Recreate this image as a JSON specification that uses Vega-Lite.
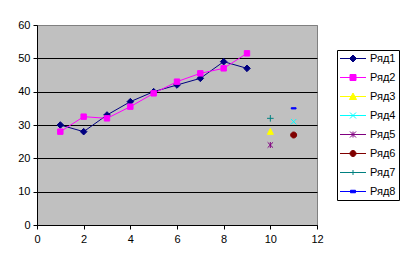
{
  "$schema": "https://vega.github.io/schema/vega-lite/v6.json",
  "width": 280,
  "height": 200,
  "autosize": {"type": "none"},
  "padding": {"left": 37, "top": 25, "right": 91, "bottom": 42},
  "background": "white",
  "config": {
    "font": "Liberation Sans",
    "view": {"stroke": "#808080", "strokeWidth": 1, "fill": "#C0C0C0"},
    "axis": {"labelFont": "Liberation Sans", "labelFontSize": 11, "labelColor": "black", "domainColor": "black", "tickColor": "black", "tickSize": 4, "domainWidth": 1, "tickWidth": 1, "title": null},
    "legend": {"labelFont": "Liberation Sans", "labelFontSize": 11, "labelColor": "black", "symbolOpacity": 1, "symbolStrokeWidth": 1, "symbolSize": 100}
  },
  "data": {
    "values": [
      {"series": "Ряд1", "x": 1, "y": 30},
      {"series": "Ряд1", "x": 2, "y": 28},
      {"series": "Ряд1", "x": 3, "y": 33},
      {"series": "Ряд1", "x": 4, "y": 37},
      {"series": "Ряд1", "x": 5, "y": 40},
      {"series": "Ряд1", "x": 6, "y": 42},
      {"series": "Ряд1", "x": 7, "y": 44},
      {"series": "Ряд1", "x": 8, "y": 49},
      {"series": "Ряд1", "x": 9, "y": 47},
      {"series": "Ряд2", "x": 1, "y": 28},
      {"series": "Ряд2", "x": 2, "y": 32.5},
      {"series": "Ряд2", "x": 3, "y": 32},
      {"series": "Ряд2", "x": 4, "y": 35.5},
      {"series": "Ряд2", "x": 5, "y": 39.5},
      {"series": "Ряд2", "x": 6, "y": 43},
      {"series": "Ряд2", "x": 7, "y": 45.5},
      {"series": "Ряд2", "x": 8, "y": 47},
      {"series": "Ряд2", "x": 9, "y": 51.5},
      {"series": "Ряд3", "x": 10, "y": 28},
      {"series": "Ряд4", "x": 11, "y": 31},
      {"series": "Ряд5", "x": 10, "y": 24},
      {"series": "Ряд6", "x": 11, "y": 27},
      {"series": "Ряд7", "x": 10, "y": 32},
      {"series": "Ряд8", "x": 11, "y": 35}
    ]
  },
  "encoding": {
    "x": {
      "field": "x", "type": "quantitative",
      "scale": {"domain": [0, 12], "nice": false, "zero": false},
      "axis": {"values": [0, 2, 4, 6, 8, 10, 12], "grid": false, "labelPadding": 4, "labelFlush": false}
    },
    "y": {
      "field": "y", "type": "quantitative",
      "scale": {"domain": [0, 60], "nice": false},
      "axis": {
        "values": [0, 10, 20, 30, 40, 50, 60],
        "grid": true,
        "gridOpacity": 1,
        "gridWidth": 1,
        "gridColor": {"condition": {"test": "datum.value === 60", "value": "#808080"}, "value": "black"},
        "labelPadding": 3,
        "labelFlush": false
      }
    },
    "stroke": {
      "field": "series", "type": "nominal",
      "scale": {
        "domain": ["Ряд1", "Ряд2", "Ряд3", "Ряд4", "Ряд5", "Ряд6", "Ряд7", "Ряд8"],
        "range": ["#000080", "#FF00FF", "#FFFF00", "#00FFFF", "#800080", "#800000", "#008080", "#0000FF"]
      },
      "legend": {"title": null, "orient": "none", "legendX": 300, "legendY": 25, "strokeColor": "black", "padding": 3, "rowPadding": 7, "labelOffset": 19, "symbolSize": 100}
    }
  },
  "layer": [
    {
      "mark": {"type": "line", "strokeWidth": 1}
    },
    {
      "mark": {"type": "point", "filled": true, "size": 100, "strokeWidth": 1, "opacity": 0},
      "encoding": {
        "fill": {
          "field": "series", "type": "nominal",
          "scale": {
            "domain": ["Ряд1", "Ряд2", "Ряд3", "Ряд4", "Ряд5", "Ряд6", "Ряд7", "Ряд8"],
            "range": ["#000080", "#FF00FF", "#FFFF00", "#00FFFF", "#800080", "#800000", "#008080", "#0000FF"]
          },
          "legend": {"title": null, "orient": "none", "legendX": 300, "legendY": 25, "strokeColor": "black", "padding": 3, "rowPadding": 7, "labelOffset": 19, "symbolSize": 100}
        },
        "shape": {
          "field": "series", "type": "nominal",
          "scale": {
            "domain": ["Ряд1", "Ряд2", "Ряд3", "Ряд4", "Ряд5", "Ряд6", "Ряд7", "Ряд8"],
            "range": [
              "M-1.1,0H4.1M1.5,-0.7L2.2,0L1.5,0.7L0.8,0Z",
              "M-1.1,0H4.1M0.9,-0.6H2.1V0.6H0.9Z",
              "M-1.1,0H4.1M1.5,-0.7L2.2,0.6H0.8Z",
              "M-1.1,0H4.1M0.9,-0.6L2.1,0.6M0.9,0.6L2.1,-0.6",
              "M-1.1,0H4.1M0.9,-0.6L2.1,0.6M0.9,0.6L2.1,-0.6M1.5,-0.6V0.6",
              "M-1.1,0H4.1M0.9,0A0.6,0.6 0 1,0 2.1,0A0.6,0.6 0 1,0 0.9,0Z",
              "M-1.1,0H4.1M1.5,-0.5V0.5",
              "M-1.1,0H4.1M1,-0.25H2V0.25H1Z"
            ]
          },
          "legend": {"title": null, "orient": "none", "legendX": 300, "legendY": 25, "strokeColor": "black", "padding": 3, "rowPadding": 7, "labelOffset": 19, "symbolSize": 100}
        }
      }
    },
    {
      "transform": [{"filter": {"field": "series", "equal": "Ряд1"}}],
      "mark": {"type": "point", "filled": true, "size": 36, "strokeWidth": 1, "opacity": 1, "shape": "M0,-1.1L1.1,0L0,1.1L-1.1,0Z"},
      "encoding": {"fill": {"field": "series", "type": "nominal"}}
    },
    {
      "transform": [{"filter": {"field": "series", "equal": "Ряд2"}}],
      "mark": {"type": "point", "filled": true, "size": 36, "strokeWidth": 1, "opacity": 1, "shape": "M-0.9,-0.9H0.9V0.9H-0.9Z"},
      "encoding": {"fill": {"field": "series", "type": "nominal"}}
    },
    {
      "transform": [{"filter": {"field": "series", "equal": "Ряд3"}}],
      "mark": {"type": "point", "filled": true, "size": 36, "strokeWidth": 1, "opacity": 1, "shape": "M0,-1.1L1,0.9H-1Z"},
      "encoding": {"fill": {"field": "series", "type": "nominal"}}
    },
    {
      "transform": [{"filter": {"field": "series", "equal": "Ряд4"}}],
      "mark": {"type": "point", "filled": true, "size": 36, "strokeWidth": 1, "opacity": 1, "shape": "M-0.9,-0.9L0.9,0.9M-0.9,0.9L0.9,-0.9"},
      "encoding": {"fill": {"field": "series", "type": "nominal"}}
    },
    {
      "transform": [{"filter": {"field": "series", "equal": "Ряд5"}}],
      "mark": {"type": "point", "filled": true, "size": 36, "strokeWidth": 1, "opacity": 1, "shape": "M-0.9,-0.9L0.9,0.9M-0.9,0.9L0.9,-0.9M0,-1V1"},
      "encoding": {"fill": {"field": "series", "type": "nominal"}}
    },
    {
      "transform": [{"filter": {"field": "series", "equal": "Ряд6"}}],
      "mark": {"type": "point", "filled": true, "size": 36, "strokeWidth": 1, "opacity": 1, "shape": "M-1,0A1,1 0 1,0 1,0A1,1 0 1,0 -1,0Z"},
      "encoding": {"fill": {"field": "series", "type": "nominal"}}
    },
    {
      "transform": [{"filter": {"field": "series", "equal": "Ряд7"}}],
      "mark": {"type": "point", "filled": true, "size": 36, "strokeWidth": 1, "opacity": 1, "shape": "M-1.1,0H1.1M0,-1.1V1.1"},
      "encoding": {"fill": {"field": "series", "type": "nominal"}}
    },
    {
      "transform": [{"filter": {"field": "series", "equal": "Ряд8"}}],
      "mark": {"type": "point", "filled": true, "size": 36, "strokeWidth": 1, "opacity": 1, "shape": "M-0.8,-0.2H0.8V0.2H-0.8Z"},
      "encoding": {"fill": {"field": "series", "type": "nominal"}}
    }
  ]
}
